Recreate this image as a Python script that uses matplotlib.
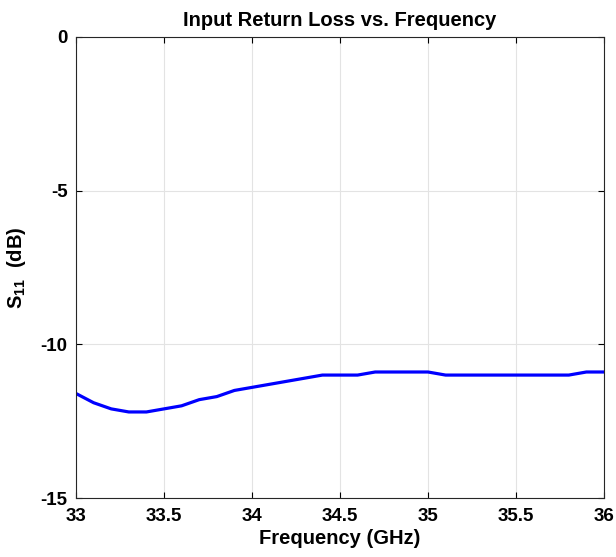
import matplotlib
matplotlib.use("Agg")
import matplotlib.pyplot as plt

# Частота (ГГц) и S11 (дБ)
freq = [33.0, 33.1, 33.2, 33.3, 33.4, 33.5, 33.6, 33.7, 33.8, 33.9,
        34.0, 34.1, 34.2, 34.3, 34.4, 34.5, 34.6, 34.7, 34.8, 34.9,
        35.0, 35.1, 35.2, 35.3, 35.4, 35.5, 35.6, 35.7, 35.8, 35.9, 36.0]
s11 = [-11.6, -11.9, -12.1, -12.2, -12.2, -12.1, -12.0, -11.8, -11.7, -11.5,
       -11.4, -11.3, -11.2, -11.1, -11.0, -11.0, -11.0, -10.9, -10.9, -10.9,
       -10.9, -11.0, -11.0, -11.0, -11.0, -11.0, -11.0, -11.0, -11.0, -10.9, -10.9]
xticks = [33, 33.5, 34, 34.5, 35, 35.5, 36]
xticklabels = ["33", "33.5", "34", "34.5", "35", "35.5", "36"]
yticks = [-15, -10, -5, 0]
yticklabels = ["-15", "-10", "-5", "0"]

plt.rcParams['font.family'] = ['Liberation Sans', 'DejaVu Sans']
plt.rcParams['font.weight'] = 'bold'
plt.rcParams['axes.unicode_minus'] = False
plt.rcParams['mathtext.fontset'] = 'custom'
plt.rcParams['mathtext.rm'] = 'Liberation Sans:bold'
plt.rcParams['mathtext.it'] = 'Liberation Sans:bold'
plt.rcParams['mathtext.bf'] = 'Liberation Sans:bold'

fig = plt.figure(figsize=(6.16, 5.57), dpi=100)
ax = fig.add_axes([0.1234, 0.1059, 0.8571, 0.8277])

ax.plot(freq, s11, color='#0000ff', linewidth=2.3)

ax.set_xlim(33, 36)
ax.set_ylim(-15, 0)
ax.set_xticks(xticks)
ax.set_xticklabels(xticklabels)
ax.set_yticks(yticks)
ax.set_yticklabels(yticklabels)
ax.tick_params(direction='in', top=True, right=True, labelsize=13.5, length=4,
               width=0.8)
ax.tick_params(axis='x', pad=7)
ax.tick_params(axis='y', pad=6)
for lab in ax.get_xticklabels() + ax.get_yticklabels():
    lab.set_fontweight('bold')
ax.grid(True, color='#e3e3e3', linewidth=0.8)
ax.set_axisbelow(True)
for sp in ax.spines.values():
    sp.set_linewidth(0.8)
    sp.set_color('#262626')

ax.set_title('Input Return Loss vs. Frequency', fontsize=14.5, fontweight='bold', pad=8)
ax.set_xlabel('Frequency (GHz)', fontsize=14.5, fontweight='bold', labelpad=3)
ax.set_ylabel(r'S$_{11}$  (dB)', fontsize=14.5, fontweight='bold', labelpad=9)

fig.savefig('out.png', dpi=100)
